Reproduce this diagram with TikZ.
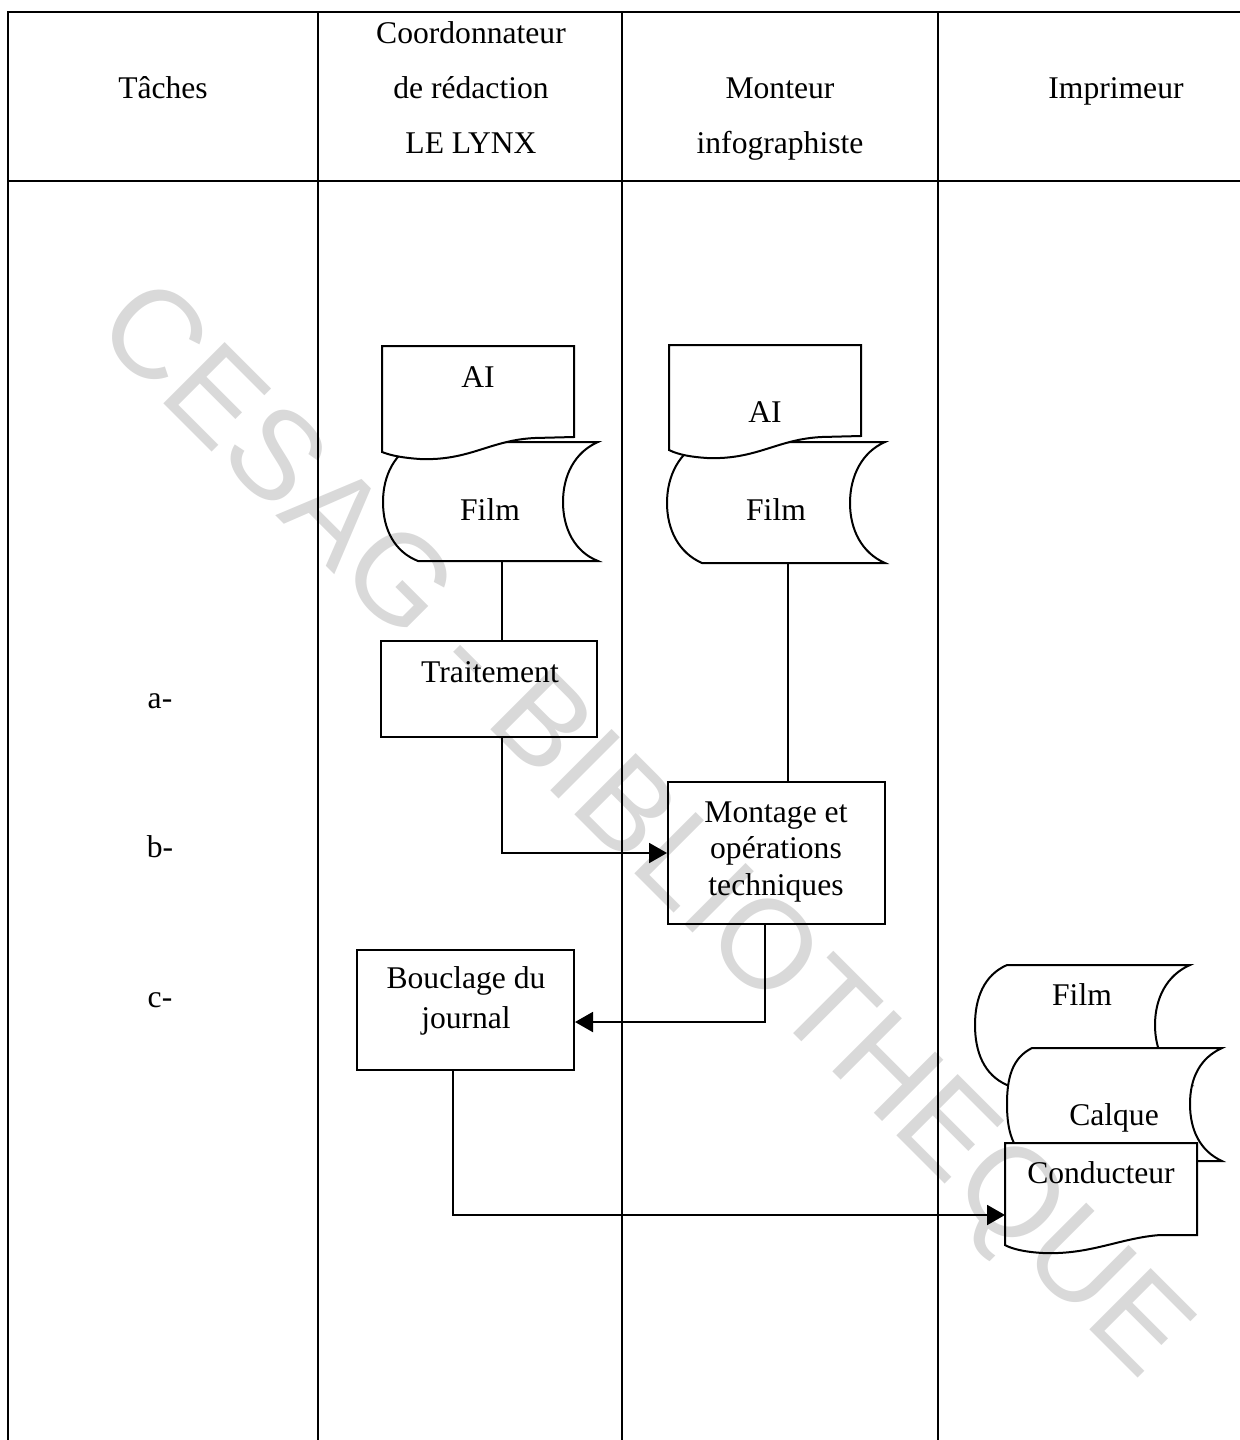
\documentclass[tikz,border=0pt]{standalone}
\usepackage{fontspec}
\setmainfont{Liberation Serif}
\newfontfamily\wmfont{Liberation Sans}
\usetikzlibrary{arrows.meta}
\begin{document}
\begin{tikzpicture}[x=0.5pt,y=-0.5pt,
  font=\fontsize{15.8pt}{19pt}\selectfont,
  tbl/.style={line width=1pt},
  shp/.style={draw, line width=1pt, fill=white},
  box/.style={draw, line width=1pt, fill=white, rectangle, inner sep=0pt},
  ln/.style={line width=1pt},
  arr/.style={line width=1pt, -{Triangle[length=9pt,width=10pt]}},
  lbl/.style={anchor=base, inner sep=0pt},
]
\useasboundingbox (0,0) rectangle (1240,1440);
\fill[white] (0,0) rectangle (1240,1440);

% table
\draw[tbl] (1240,12) -- (8,12) -- (8,1440);
\draw[tbl] (8,181) -- (1240,181);
\draw[tbl] (318,12) -- (318,1440);
\draw[tbl] (622,12) -- (622,1440);
\draw[tbl] (938,12) -- (938,1440);

% headers
\node[lbl] (hT) at (163,98) {Tâches};
\node[lbl] (hC1) at (471,43) {Coordonnateur};
\node[lbl] (hC2) at (471,98) {de rédaction};
\node[lbl] (hC3) at (471,153) {LE LYNX};
\node[lbl] (hM1) at (780,98) {Monteur};
\node[lbl] (hM2) at (780,153) {infographiste};
\node[lbl] (hI) at (1116,98) {Imprimeur};

% row labels
\node[lbl] (ra) at (160,708) {a-};
\node[lbl] (rb) at (160,857) {b-};
\node[lbl] (rc) at (160,1007) {c-};

% left column: Film + AI
\draw[shp] (418,442) -- (598,442)
  .. controls (575,452) and (563,475) .. (563,502)
  .. controls (563,529) and (575,552) .. (598,561)
  -- (418,561)
  .. controls (395,552) and (383,530) .. (383,502)
  .. controls (383,475) and (395,452) .. (418,442) -- cycle;
\coordinate (filmLs) at (502,561);
\node[lbl] (filmLt) at (490,520) {Film};
\draw[shp] (382,346) -- (574,346) -- (574,437) -- (535,438)
  .. controls (490,440) and (470,461) .. (420,459)
  .. controls (405,458) and (392,456) .. (382,452) -- cycle;
\node[lbl] (aiLt) at (478,387) {AI};

% middle column: Film + AI
\draw[shp] (702,442) -- (885,442)
  .. controls (862,452) and (850,476) .. (850,503)
  .. controls (850,530) and (862,553) .. (885,563)
  -- (702,563)
  .. controls (679,553) and (667,530) .. (667,503)
  .. controls (667,476) and (679,452) .. (702,442) -- cycle;
\coordinate (filmMs) at (788,563);
\node[lbl] (filmMt) at (776,520) {Film};
\draw[shp] (669,345) -- (861,345) -- (861,436) -- (822,437)
  .. controls (777,439) and (757,460) .. (707,458)
  .. controls (692,457) and (679,455) .. (669,450) -- cycle;
\node[lbl] (aiMt) at (765,422) {AI};

% process boxes
\node[box, minimum width=108pt, minimum height=48pt] (trait) at (489,689) {};
\node[lbl] (traitT) at (490,682) {Traitement};
\node[box, minimum width=108.5pt, minimum height=71pt] (mont) at (776.5,853) {};
\node[lbl] (montT1) at (776,822) {Montage et};
\node[lbl] (montT2) at (776,858) {opérations};
\node[lbl] (montT3) at (776,895) {techniques};
\node[box, minimum width=108.5pt, minimum height=60pt] (bouc) at (465.5,1010) {};
\node[lbl] (boucT1) at (466,988) {Bouclage du};
\node[lbl] (boucT2) at (466,1028) {journal};

% right column: Film, Calque, Conducteur
\draw[shp] (1007,965) -- (1190,965)
  .. controls (1167,975) and (1155,998) .. (1155,1025)
  .. controls (1155,1052) and (1167,1075) .. (1190,1085)
  -- (1007,1085)
  .. controls (984,1075) and (975,1052) .. (975,1025)
  .. controls (975,998) and (984,975) .. (1007,965) -- cycle;
\node[lbl] (filmRt) at (1082,1005) {Film};
\draw[shp] (1032,1048) -- (1222,1048)
  .. controls (1200,1058) and (1190,1078) .. (1190,1104)
  .. controls (1190,1130) and (1200,1151) .. (1222,1161)
  -- (1032,1161)
  .. controls (1012,1151) and (1007,1130) .. (1007,1104)
  .. controls (1007,1078) and (1012,1058) .. (1032,1048) -- cycle;
\node[lbl] (calqT) at (1114,1125) {Calque};
\draw[shp] (1005,1143) -- (1197,1143) -- (1197,1235) -- (1160,1235)
  .. controls (1120,1238) and (1090,1255) .. (1043,1253)
  .. controls (1025,1252) and (1012,1249) .. (1005,1245) -- cycle;
\node[lbl] (condT) at (1101,1183) {Conducteur};
\coordinate (condW) at (1005,1215);

% connectors
\draw[ln] (filmLs) -- (filmLs |- trait.north);
\draw[arr] (trait.south -| filmLs) |- (mont.west);
\draw[ln] (filmMs) -- (filmMs |- mont.north);
\coordinate (m2) at (765,1022);
\draw[arr] (mont.south -| m2) |- (bouc.east |- m2);
\coordinate (b2) at (453,1215);
\draw[arr] (bouc.south -| b2) |- (condW);

% watermark
\node[rotate=-45, text=black, text opacity=0.15, inner sep=0pt,
  font=\wmfont\fontsize{63pt}{68pt}\selectfont] (wm) at (640,834) {CESAG - BIBLIOTHEQUE};
\end{tikzpicture}
\end{document}
